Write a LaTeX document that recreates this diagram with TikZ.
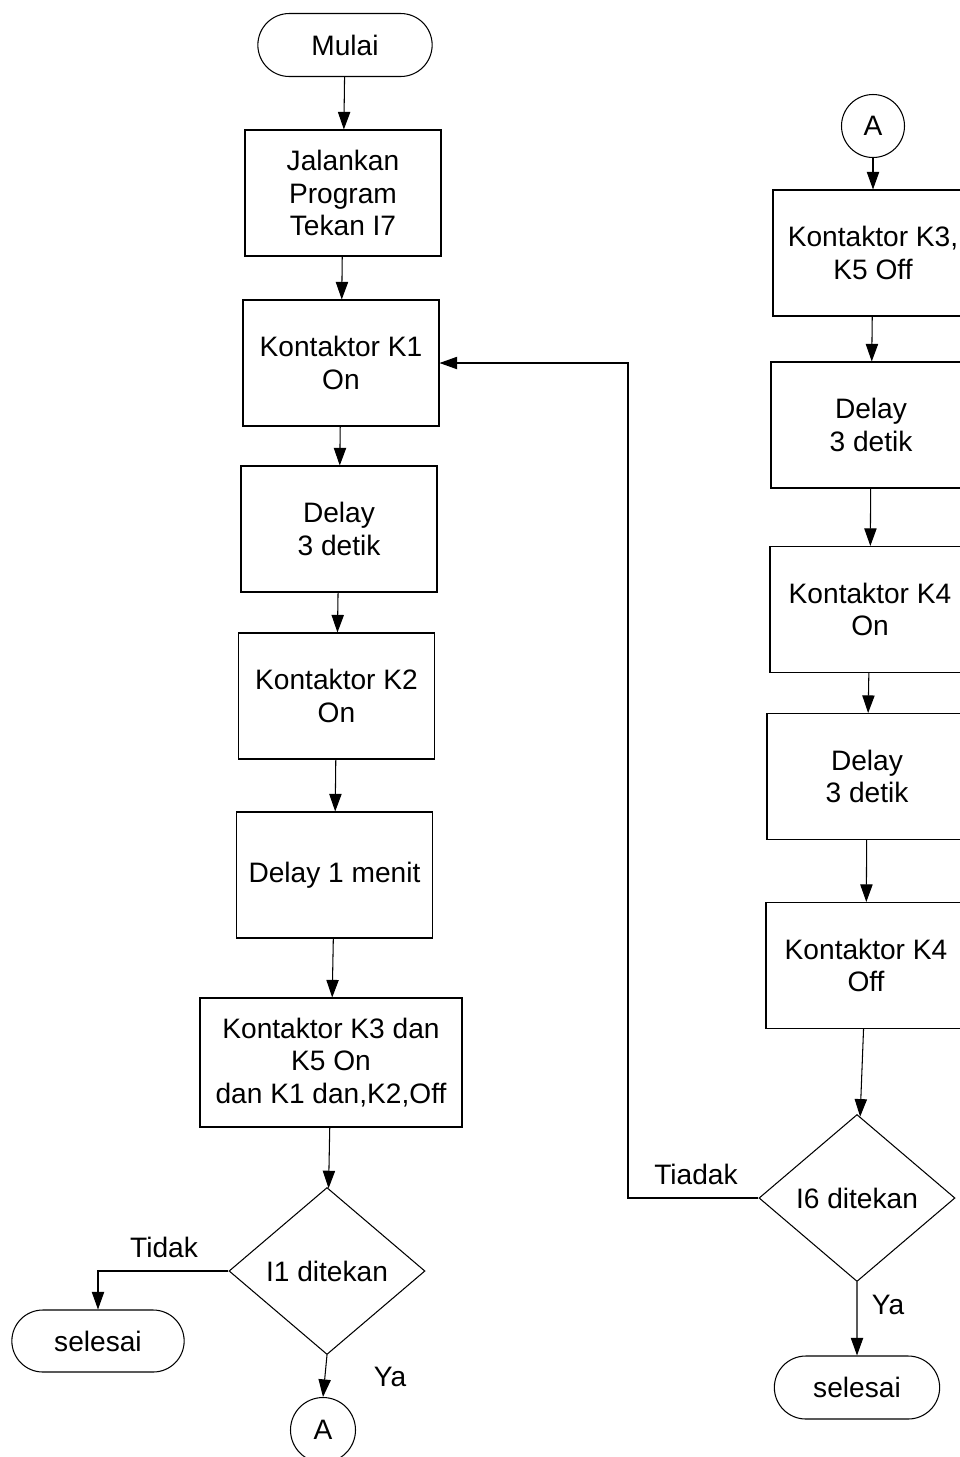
\documentclass[tikz,border=0pt]{standalone}
\usepackage{fontspec}
\setmainfont{Liberation Sans}
\usepackage{tikz}
\usetikzlibrary{arrows.meta,shapes.geometric,shapes.misc}

\begin{document}
\begin{tikzpicture}[>={Triangle[width=7pt,length=10pt]},line width=0.6pt,
  font=\fontsize{16}{18.7}\selectfont,
  box/.style={draw,align=center,minimum width=3.92cm,minimum height=2.52cm},
  ends/.style={draw,rounded rectangle,minimum width=3.68cm,minimum height=1.24cm},
  cond/.style={draw,diamond,inner sep=0pt,minimum width=3.92cm,minimum height=3.34cm},
  conn/.style={draw,circle,inner sep=0pt,minimum size=1.3cm}]
\useasboundingbox (0,0) rectangle (19.2,-29.14);
% kolom kiri
\node[ends,minimum width=3.72cm,minimum height=1.26cm](mulai) at (6.9,-0.9){Mulai};
\node[box](jalan) at (6.86,-3.86){Jalankan\\Program\\Tekan I7};
\node[box](kone) at (6.82,-7.26){Kontaktor K1\\On};
\node[box](dlyone) at (6.78,-10.58){Delay\\3 detik};
\node[box](ktwo) at (6.73,-13.92){Kontaktor K2\\On};
\node[box](menit) at (6.69,-17.5){Delay 1 menit};
\node[box,minimum width=5.24cm,minimum height=2.58cm](kthree) at (6.62,-21.25){Kontaktor K3 dan\\K5 On\\dan K1 dan,K2,Off};
\node[cond](ione) at (6.54,-25.42){I1 ditekan};
\node[ends](endone) at (1.96,-26.82){selesai};
\node[conn](aone) at (6.46,-28.6){A};
\draw[->](mulai)--(jalan);
\draw[->](jalan)--(kone);
\draw[->](kone)--(dlyone);
\draw[->](dlyone)--(ktwo);
\draw[->](ktwo)--(menit);
\draw[->](menit)--(kthree);
\draw[->](kthree)--(ione);
\draw[->](ione.west)-|(endone.north);
\draw[->](ione.south)--(aone.north);
\node(tidak) at (3.28,-24.94){Tidak};
\node(yaone) at (7.8,-27.54){Ya};
% kolom kanan
\node[conn,minimum size=1.26cm](atwo) at (17.46,-2.52){A};
\node[box,minimum width=4cm](koff) at (17.46,-5.06){Kontaktor K3,\\K5 Off};
\node[box,minimum width=4cm](dlytwo) at (17.42,-8.5){Delay\\3 detik};
\node[box,minimum width=4cm](kfour) at (17.4,-12.19){Kontaktor K4\\On};
\node[box,minimum width=4cm](dlythree) at (17.34,-15.53){Delay\\3 detik};
\node[box,minimum width=4cm](kfoff) at (17.32,-19.31){Kontaktor K4\\Off};
\node[cond](isix) at (17.14,-23.96){I6 ditekan};
\node[ends,minimum width=3.54cm,minimum height=1.26cm](endtwo) at (17.14,-27.75){selesai};
\coordinate(balik) at (12.56,-7.26);
\draw[->](atwo)--(koff);
\draw[->](koff)--(dlytwo);
\draw[->](dlytwo)--(kfour);
\draw[->](kfour)--(dlythree);
\draw[->](dlythree)--(kfoff);
\draw[->](kfoff)--(isix);
\draw[->](isix)--(endtwo);
\draw[->](isix.west)-|(balik)--(kone.east);
\node(tiadak) at (13.92,-23.48){Tiadak};
\node(yatwo) at (17.76,-26.1){Ya};
\end{tikzpicture}
\end{document}
